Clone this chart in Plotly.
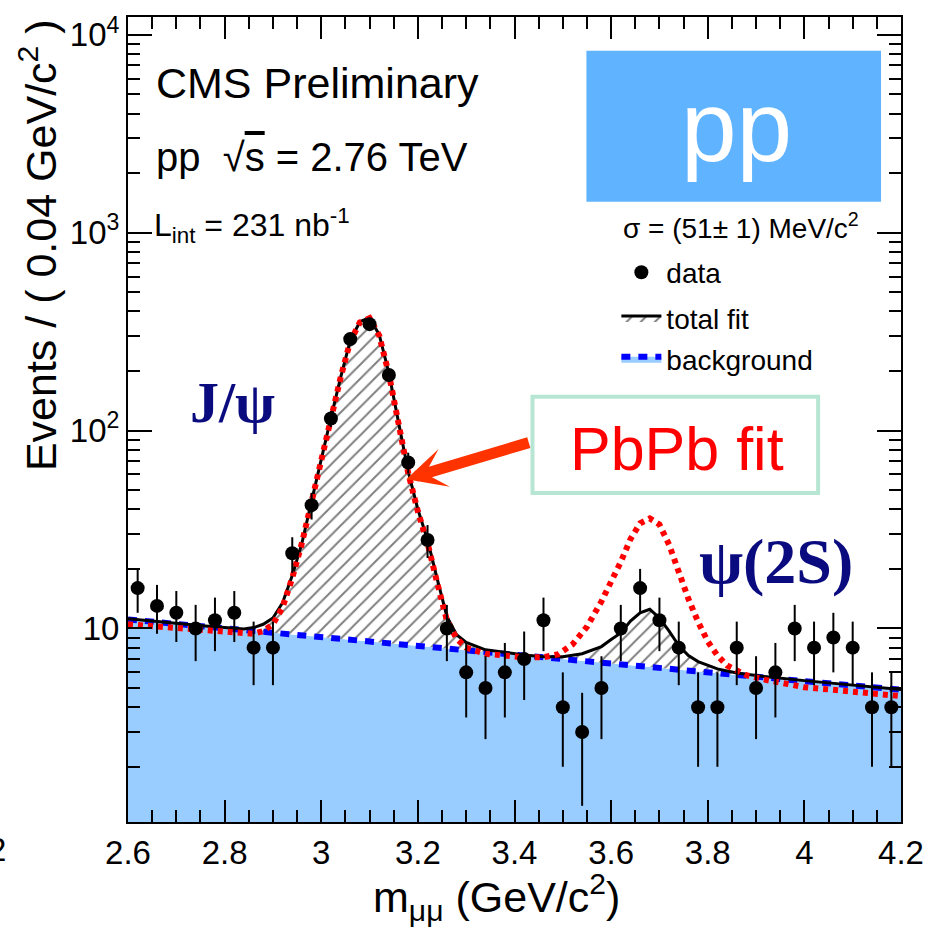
import math
import plotly.graph_objects as go

# ---------------- data ----------------
mass_bins = [2.62, 2.66, 2.70, 2.74, 2.78, 2.82, 2.86, 2.90, 2.94, 2.98,
             3.02, 3.06, 3.10, 3.14, 3.18, 3.22, 3.26, 3.30, 3.34, 3.38,
             3.42, 3.46, 3.50, 3.54, 3.58, 3.62, 3.66, 3.70, 3.74, 3.78,
             3.82, 3.86, 3.90, 3.94, 3.98, 4.02, 4.06, 4.10, 4.14, 4.18]
counts = [16, 13, 12, 10, 11, 12, 8, 8, 24, 42,
          115, 290, 345, 191, 69, 28, 10, 6, 5, 6,
          7, 11, 4, 3, 5, 10, 16, 11, 8, 4,
          4, 8, 5, 6, 10, 8, 9, 8, 4, 4]
count_err = [4.0, 3.6, 3.46, 3.16, 3.32, 3.46, 2.83, 2.83, 4.9, 6.48,
             10.7, 17.0, 18.6, 13.8, 8.3, 5.3, 3.16, 2.45, 2.24, 2.45,
             2.65, 3.32, 2.0, 1.73, 2.24, 3.16, 4.0, 3.32, 2.83, 2.0,
             2.0, 2.83, 2.24, 2.45, 3.16, 2.83, 3.0, 2.83, 2.0, 2.0]

curve_mass = [2.60, 2.64, 2.68, 2.72, 2.76, 2.80, 2.84, 2.86, 2.88, 2.90,
              2.92, 2.94, 2.96, 2.98, 3.00, 3.02, 3.04, 3.06, 3.08, 3.10,
              3.12, 3.14, 3.16, 3.18, 3.20, 3.22, 3.24, 3.26, 3.28, 3.30,
              3.34, 3.38, 3.42, 3.46, 3.50, 3.54, 3.58, 3.60, 3.62, 3.64,
              3.66, 3.68, 3.70, 3.72, 3.74, 3.76, 3.78, 3.82, 3.86, 3.90,
              3.95, 4.00, 4.05, 4.10, 4.15, 4.20]
bkg_fit = [11.1, 10.87, 10.65, 10.43, 10.22, 10.01, 9.81, 9.71, 9.61, 9.51,
           9.42, 9.32, 9.23, 9.13, 9.04, 8.95, 8.86, 8.77, 8.68, 8.59,
           8.50, 8.42, 8.33, 8.25, 8.16, 8.08, 8.00, 7.91, 7.83, 7.76,
           7.60, 7.44, 7.29, 7.15, 7.00, 6.86, 6.72, 6.65, 6.59, 6.52,
           6.45, 6.39, 6.32, 6.26, 6.19, 6.13, 6.07, 5.95, 5.83, 5.71,
           5.56, 5.42, 5.29, 5.15, 5.02, 4.90]
total_fit = [11.2, 10.95, 10.72, 10.5, 10.3, 10.1, 9.95, 10.1, 10.5, 11.3,
             13.5, 18.5, 27.0, 44.0, 72.0, 116.0, 185.0, 285.0, 355.0, 372.0,
             305.0, 195.0, 110.0, 62.0, 40.0, 28.0, 17.8, 11.5, 9.3, 8.5,
             7.8, 7.55, 7.35, 7.2, 7.2, 7.45, 8.1, 8.8, 9.5, 10.9,
             12.0, 12.5, 11.3, 9.7, 8.2, 7.3, 6.8, 6.25, 5.95, 5.78,
             5.6, 5.45, 5.31, 5.17, 5.04, 4.92]

pbpb_mass = [2.60, 2.70, 2.80, 2.86, 2.88, 2.90, 2.92, 2.94, 2.96, 2.98,
             3.00, 3.02, 3.04, 3.06, 3.08, 3.10, 3.12, 3.14, 3.16, 3.18,
             3.20, 3.22, 3.24, 3.26, 3.28, 3.30, 3.34, 3.38, 3.42, 3.46,
             3.49, 3.52, 3.55, 3.58, 3.60, 3.62, 3.64, 3.66, 3.68, 3.70,
             3.72, 3.74, 3.76, 3.78, 3.80, 3.82, 3.84, 3.88, 3.92, 4.00,
             4.10, 4.20]
pbpb_fit = [10.5, 10.0, 9.6, 9.4, 9.7, 10.5, 12.8, 18.0, 27.0, 44.0,
            72.0, 116.0, 185.0, 282.0, 352.0, 370.0, 302.0, 193.0, 108.0, 61.0,
            39.0, 27.0, 17.0, 11.0, 8.9, 8.0, 7.45, 7.25, 7.15, 7.15,
            7.4, 8.3, 10.2, 13.7, 17.2, 21.7, 28.3, 34.0, 36.0, 33.5,
            26.5, 19.3, 14.1, 10.8, 8.6, 7.3, 6.5, 5.8, 5.5, 5.05,
            4.8, 4.55]

x_ticks = [2.6, 2.8, 3.0, 3.2, 3.4, 3.6, 3.8, 4.0, 4.2]
x_tick_labels = ["2.6", "2.8", "3", "3.2", "3.4", "3.6", "3.8", "4", "4.2"]
y_ticks = [10, 100, 1000, 10000]
y_tick_labels = ["10", "10<sup>2</sup>", "10<sup>3</sup>", "10<sup>4</sup>"]
y_minor = [m * 10 ** d for d in range(0, 4) for m in range(2, 10)]

# ---------------- geometry helpers (pixels -> paper) ----------------
W, H = 936, 930
L, R, T, B = 128, 902, 12, 822


def px(x):
    return (x - L) / (R - L)


def py(y):
    return (B - y) / (B - T)


FONT = "Liberation Sans"
SERIF = "Liberation Serif"

fig = go.Figure()

# background fill + dashed line
fig.add_trace(go.Scatter(
    x=curve_mass, y=bkg_fit, mode="lines", name="background", legend="legend3",
    line=dict(color="#0000ff", width=6, dash="9px,8px"),
    fill="tozeroy", fillcolor="#99ccff",
))
# total fit with hatch between bkg and total
fig.add_trace(go.Scatter(
    x=curve_mass, y=total_fit, mode="lines", name="total fit", legend="legend2",
    line=dict(color="black", width=3),
    fill="tonexty", fillcolor="white",
    fillpattern=dict(shape="/", fgcolor="black", bgcolor="white", size=10, solidity=0.2),
))
# PbPb fit (red dotted)
fig.add_trace(go.Scatter(
    x=pbpb_mass, y=pbpb_fit, mode="lines", name="PbPb fit", showlegend=False,
    line=dict(color="#ff0000", width=6, dash="5px,5px"),
))
# data
fig.add_trace(go.Scatter(
    x=mass_bins, y=counts, mode="markers", name="data", legend="legend",
    marker=dict(color="black", size=14),
    error_y=dict(type="data", array=count_err, visible=True, color="black", thickness=2, width=0),
))

annotations = [
    dict(text="CMS Preliminary", x=px(154), y=py(78), xanchor="left", yanchor="middle",
         font=dict(size=43, family=FONT, color="black")),
    dict(text="pp  \u221a<span style='text-decoration:overline'>s</span> = 2.76 TeV",
         x=px(154), y=py(153), xanchor="left", yanchor="middle",
         font=dict(size=40, family=FONT, color="black")),
    dict(text="L<sub>int</sub> = 231 nb<sup>-1</sup>", x=px(152), y=py(222), xanchor="left",
         yanchor="middle", font=dict(size=32, family=FONT, color="black")),
    dict(text="pp", x=px(737), y=py(122), xanchor="center", yanchor="middle",
         font=dict(size=100, family=FONT, color="white")),
    dict(text="\u03c3 = (51\u00b1 1) MeV/c<sup>2</sup>", x=px(862), y=py(222), xanchor="right",
         yanchor="middle", font=dict(size=28, family=FONT, color="black")),
    dict(text="<b>J/\u03c8</b>", x=px(233), y=py(400), xanchor="center", yanchor="middle",
         font=dict(size=58, family=SERIF, color="#0b0b80")),
    dict(text="<b>\u03c8(2S)</b>", x=px(777), y=py(560), xanchor="center", yanchor="middle",
         font=dict(size=64, family=SERIF, color="#0b0b80")),
    dict(text="PbPb fit", x=px(678), y=py(447), xanchor="center", yanchor="middle",
         font=dict(size=61, family=FONT, color="#ff0000")),
    dict(text="m<sub>\u03bc\u03bc</sub> (GeV/c<sup>2</sup>)", x=px(497), y=py(897),
         xanchor="center", yanchor="middle", font=dict(size=43, family=FONT, color="black")),
    dict(text="Events / ( 0.04 GeV/c<sup>2</sup> )", x=px(38), y=py(12), xanchor="center",
         yanchor="top", textangle=-90, font=dict(size=43, family=FONT, color="black")),
    dict(text="2", x=px(8), y=py(850), xanchor="right", yanchor="middle",
         font=dict(size=33, family=FONT, color="black")),
]
for a in annotations:
    a.update(xref="paper", yref="paper", showarrow=False)

# arrow pointing at the J/psi peak
annotations.append(dict(
    x=3.176, y=math.log10(56.8), xref="x", yref="y", text="", showarrow=True,
    ax=124, ay=-37, axref="pixel", ayref="pixel",
    arrowhead=3, arrowsize=0.6, arrowwidth=11, arrowcolor="#ff3300", standoff=0,
))

shapes = [
    dict(type="rect", xref="paper", yref="paper", x0=px(587), x1=px(882), y0=py(198), y1=py(46),
         fillcolor="#60b4ff", line=dict(width=0), layer="below"),
    dict(type="rect", xref="paper", yref="paper", x0=px(533), x1=px(819), y0=py(491), y1=py(394),
         fillcolor="white", line=dict(color="#b8e6d4", width=4)),
]

leg_common = dict(xanchor="left", yanchor="top", bgcolor="rgba(0,0,0,0)",
                  font=dict(size=28, family=FONT), itemwidth=40)

fig.update_layout(
    width=W, height=H,
    margin=dict(l=L, r=W - R, t=T, b=H - B),
    paper_bgcolor="white", plot_bgcolor="white",
    font=dict(family=FONT, color="black"),
    annotations=annotations, shapes=shapes,
    showlegend=True,
    legend=dict(x=px(617), y=py(244), **leg_common),
    legend2=dict(x=px(617), y=py(290), **leg_common),
    legend3=dict(x=px(617), y=py(331), **leg_common),
)
fig.update_xaxes(
    range=[2.6, 4.2], tickmode="array", tickvals=x_ticks, ticktext=x_tick_labels,
    ticks="inside", ticklen=22, tickwidth=2, tickcolor="black",
    showline=True, linewidth=2, linecolor="black", mirror="ticks",
    showgrid=False, zeroline=False, tickfont=dict(size=33, family=FONT),
    minor=dict(ticks="inside", ticklen=12, tickwidth=2, tickcolor="black", dtick=0.05, tick0=2.6, showgrid=False),
)
fig.update_yaxes(
    type="log", range=[0.022, 4.09], tickmode="array", tickvals=y_ticks, ticktext=y_tick_labels,
    ticks="inside", ticklen=24, tickwidth=2, tickcolor="black",
    showline=True, linewidth=2, linecolor="black", mirror="ticks",
    showgrid=False, zeroline=False, tickfont=dict(size=33, family=FONT),
    minor=dict(ticks="inside", ticklen=12, tickwidth=2, tickcolor="black", tickmode="array", tickvals=y_minor, showgrid=False),
)

fig.write_html("out.html")
